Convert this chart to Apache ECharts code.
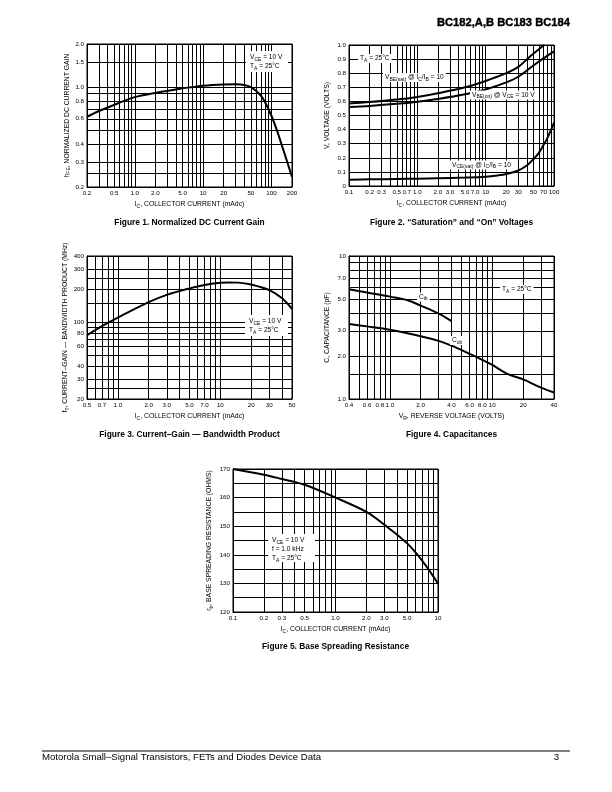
<!DOCTYPE html>
<html><head><meta charset="utf-8">
<script src="https://cdn.jsdelivr.net/npm/echarts@6/dist/echarts.min.js"></script>
<style>html,body{margin:0;padding:0;background:#fff}#c{width:612px;height:792px}</style>
</head><body><div id="c"></div>
<script>
// ---------------- DATA ----------------
// Figure 1: Normalized DC current gain
const fig1Ic  = [0.2,0.3,0.5,0.7,1,2,3,5,7,10,20,30,40,50,60,70,80,100,120,140,170,200];
const fig1Hfe = [0.62,0.68,0.75,0.80,0.85,0.91,0.94,0.98,1.0,1.02,1.04,1.045,1.035,1.0,0.94,0.87,0.79,0.63,0.5,0.4,0.3,0.235];
const fig1XLabels = ['0.2','0.5','1.0','2.0','5.0','10','20','50','100','200'];
const fig1YLabels = ['0.2','0.3','0.4','0.6','0.8','1.0','1.5','2.0'];
const fig1XGrid = [0.2,0.3,0.4,0.5,0.6,0.7,0.8,0.9,1,2,3,4,5,6,7,8,9,10,20,30,40,50,60,70,80,90,100,200];
const fig1YGrid = [0.2,0.25,0.3,0.4,0.5,0.6,0.7,0.8,0.9,1.0,1.5,2.0];

// Figure 2: Saturation and On voltages
const fig2IcSat = [0.1,0.2,0.5,1,2,5,10,20,30,45,60,72];
const fig2VbeSat = [0.585,0.595,0.613,0.632,0.658,0.70,0.745,0.80,0.845,0.92,0.97,1.0];
const fig2IcOn = [0.1,0.2,0.5,1,2,5,10,20,30,50,70,100];
const fig2VbeOn = [0.56,0.568,0.583,0.598,0.617,0.65,0.685,0.735,0.775,0.855,0.905,0.955];
const fig2IcCe = [0.1,0.2,0.5,1,2,5,10,15,20,30,40,50,60,70,80,100];
const fig2VceSat = [0.045,0.047,0.05,0.052,0.055,0.06,0.066,0.075,0.085,0.11,0.145,0.19,0.235,0.29,0.34,0.45];
const fig2XLabels = ['0.1','0.2','0.3','0.5','0.7','1.0','2.0','3.0','5.0','7.0','10','20','30','50','70','100'];
const fig2XGrid = [0.1,0.2,0.3,0.4,0.5,0.6,0.7,0.8,0.9,1,2,3,4,5,6,7,8,9,10,20,30,40,50,60,70,80,90,100];

// Figure 3: Current-gain bandwidth product
const fig3Ic = [0.5,0.7,1,2,3,5,7,10,12,15,20,30,40,50];
const fig3Ft = [76,92,110,152,177,203,218,228,230,229,220,196,165,132];
const fig3XLabels = ['0.5','0.7','1.0','2.0','3.0','5.0','7.0','10','20','30','50'];
const fig3YLabels = ['20','30','40','60','80','100','200','300','400'];
const fig3XGrid = [0.5,0.6,0.7,0.8,0.9,1,2,3,4,5,6,7,8,9,10,20,30,40,50];
const fig3YGrid = [20,25,30,40,50,60,70,80,90,100,150,200,250,300,400];

// Figure 4: Capacitances
const fig4VrIb = [0.4,0.6,1,1.5,2,3,4];
const fig4Cib  = [5.85,5.55,5.2,4.9,4.5,3.95,3.5];
const fig4VrOb = [0.4,0.6,1,2,3,4,6,8,10,14,20,30,40];
const fig4Cob  = [3.35,3.22,3.05,2.75,2.55,2.36,2.07,1.88,1.73,1.5,1.37,1.2,1.11];
const fig4XLabels = ['0.4','0.6','0.8','1.0','2.0','4.0','6.0','8.0','10','20','40'];
const fig4YLabels = ['1.0','2.0','3.0','5.0','7.0','10'];
const fig4XGrid = [0.4,0.5,0.6,0.7,0.8,0.9,1,2,3,4,5,6,7,8,9,10,20,30,40];
const fig4YGrid = [1,1.5,2,3,4,5,6,7,8,9,10];

// Figure 5: Base spreading resistance
const fig5Ic = [0.1,0.2,0.3,0.5,1,2,3,5,7,10];
const fig5Rb = [170,168,166.5,164.5,160,155,150.5,144,138,130];
const fig5XLabels = ['0.1','0.2','0.3','0.5','1.0','2.0','3.0','5.0','10'];
const fig5XGrid = [0.1,0.2,0.3,0.4,0.5,0.6,0.7,0.8,0.9,1,2,3,4,5,6,7,8,9,10];

// ---------------- STYLE / HELPERS ----------------
const FONT = "'Liberation Sans', Arial, Helvetica, sans-serif";
const TICK_FS = 6.2;
const NAME_FS = 6.8;
const rich = {
  n: {fontSize: NAME_FS, fontFamily: FONT, color: '#000', lineHeight: 9},
  s: {fontSize: 5, fontFamily: FONT, color: '#000', lineHeight: 5, verticalAlign: 'bottom'}
};
const annRich = {
  n: {fontSize: 6.6, fontFamily: FONT, fill: '#000', lineHeight: 9},
  s: {fontSize: 5, fontFamily: FONT, fill: '#000', lineHeight: 5, verticalAlign: 'bottom'}
};
function zip(a, b) { return a.map((v, i) => [v, b[i]]); }
function nearestLabel(labels, v) {
  let best = labels[0], bd = Infinity;
  labels.forEach(l => { const d = Math.abs(Math.log(Number(l)) - Math.log(v)); if (d < bd) { bd = d; best = l; } });
  return best;
}
const lineBlack = {color: '#000', width: 1};
function logAxis(gi, min, max, grid, labels, name, gap, isY) {
  const ax = {
    type: 'log', logBase: 10, gridIndex: gi, min: min, max: max,
    axisLine: {show: true, lineStyle: lineBlack},
    axisTick: {show: false, customValues: grid},
    splitLine: {show: true, lineStyle: lineBlack},
    axisLabel: {customValues: labels.map(Number), formatter: v => nearestLabel(labels, v),
      fontSize: TICK_FS, color: '#000', fontFamily: FONT, margin: 3, showMinLabel: true, showMaxLabel: true},
    name: name, nameLocation: 'middle', nameGap: gap,
    nameTextStyle: {rich: rich, fontFamily: FONT, fontSize: NAME_FS, color: '#000'}
  };
  if (isY) ax.nameRotate = 90;
  return ax;
}
function linAxis(gi, min, max, interval, fmt, name, gap) {
  return {
    type: 'value', gridIndex: gi, min: min, max: max, interval: interval,
    axisLine: {show: true, lineStyle: lineBlack},
    axisTick: {show: false},
    splitLine: {show: true, lineStyle: lineBlack},
    axisLabel: {formatter: fmt, fontSize: TICK_FS, color: '#000', fontFamily: FONT, margin: 3, showMinLabel: true, showMaxLabel: true},
    name: name, nameLocation: 'middle', nameGap: gap, nameRotate: 90,
    nameTextStyle: {rich: rich, fontFamily: FONT, fontSize: NAME_FS, color: '#000'}
  };
}
function curve(xi, yi, data) {
  return {type: 'line', xAxisIndex: xi, yAxisIndex: yi, data: data, smooth: 0.35, showSymbol: false,
    symbol: 'none', lineStyle: {color: '#000', width: 2}, clip: true, silent: true, z: 5};
}
const icName = '{n|I}{s|C}{n|, COLLECTOR CURRENT (mAdc)}';

function annBox(x, y, w, h, text) {
  return {type: 'group', z: 50, children: [
    {type: 'rect', shape: {x: x, y: y, width: w, height: h}, style: {fill: '#fff'}, z: 50},
    {type: 'text', x: x + 4, y: y + 2, z: 51, style: {text: text, rich: annRich, textAlign: 'left', textVerticalAlign: 'top', fill: '#000', fontFamily: FONT, fontSize: 6.6}}
  ]};
}
function annText(x, y, text, align) {
  return {type: 'text', x: x, y: y, z: 51, style: {text: text, rich: annRich, textAlign: align || 'left', textVerticalAlign: 'middle',
    fill: '#000', fontFamily: FONT, fontSize: 6.6, backgroundColor: '#fff', padding: [0, 2, 0, 2]}};
}
function caption(x, y, text) {
  return {type: 'text', x: x, y: y, style: {text: text, fontFamily: FONT, fontWeight: 'bold', fontSize: 8.4, fill: '#000', textAlign: 'center', textVerticalAlign: 'middle'}};
}

// ---------------- CHART ----------------
const chart = echarts.init(document.getElementById('c'), null, {renderer: 'canvas', width: 612, height: 792});
const gridStyle = {show: true, borderColor: '#000', borderWidth: 1, backgroundColor: 'transparent'};
const option = {
  backgroundColor: '#fff',
  animation: false,
  grid: [
    Object.assign({left: 87, top: 44, width: 205, height: 143}, gridStyle),
    Object.assign({left: 349, top: 45, width: 205, height: 141}, gridStyle),
    Object.assign({left: 87, top: 256, width: 205, height: 143}, gridStyle),
    Object.assign({left: 349, top: 256, width: 205, height: 143}, gridStyle),
    Object.assign({left: 233, top: 469, width: 205, height: 143}, gridStyle)
  ],
  xAxis: [
    logAxis(0, 0.2, 200, fig1XGrid, fig1XLabels, icName, 13, false),
    logAxis(1, 0.1, 100, fig2XGrid, fig2XLabels, icName, 13, false),
    logAxis(2, 0.5, 50, fig3XGrid, fig3XLabels, icName, 13, false),
    logAxis(3, 0.4, 40, fig4XGrid, fig4XLabels, '{n|V}{s|R}{n|, REVERSE VOLTAGE (VOLTS)}', 13, false),
    logAxis(4, 0.1, 10, fig5XGrid, fig5XLabels, icName, 13, false)
  ],
  yAxis: [
    logAxis(0, 0.2, 2.0, fig1YGrid, fig1YLabels, '{n|h}{s|FE}{n|, NORMALIZED DC CURRENT GAIN}', 15, true),
    linAxis(1, 0, 1.0, 0.1, v => (v === 0 ? '0' : v.toFixed(1)), '{n|V, VOLTAGE (VOLTS)}', 17),
    logAxis(2, 20, 400, fig3YGrid, fig3YLabels, '{n|f}{s|T}{n|, CURRENT\u2013GAIN \u2014 BANDWIDTH PRODUCT (MHz)}', 17, true),
    logAxis(3, 1, 10, fig4YGrid, fig4YLabels, '{n|C, CAPACITANCE (pF)}', 17, true),
    linAxis(4, 120, 170, 5, v => (v % 10 === 0 ? String(v) : ''), '{n|r}{s|b}{n|, BASE SPREADING RESISTANCE (OHMS)}', 19)
  ],
  series: [
    curve(0, 0, zip(fig1Ic, fig1Hfe)),
    curve(1, 1, zip(fig2IcSat, fig2VbeSat)),
    curve(1, 1, zip(fig2IcOn, fig2VbeOn)),
    curve(1, 1, zip(fig2IcCe, fig2VceSat)),
    curve(2, 2, zip(fig3Ic, fig3Ft)),
    curve(3, 3, zip(fig4VrIb, fig4Cib)),
    curve(3, 3, zip(fig4VrOb, fig4Cob)),
    curve(4, 4, zip(fig5Ic, fig5Rb))
  ],
  graphic: [
    {type: 'text', x: 570, y: 23, style: {text: 'BC182,A,B BC183 BC184', fontFamily: FONT, fontWeight: 'bold', fontSize: 11.2, fill: '#000', textAlign: 'right', textVerticalAlign: 'middle', stroke: '#000', lineWidth: 0.4}},
    caption(189.5, 223, 'Figure 1. Normalized DC Current Gain'),
    caption(451.5, 223, 'Figure 2. \u201cSaturation\u201d and \u201cOn\u201d Voltages'),
    caption(189.5, 435, 'Figure 3. Current\u2013Gain \u2014 Bandwidth Product'),
    caption(451.5, 435, 'Figure 4. Capacitances'),
    caption(335.5, 647, 'Figure 5. Base Spreading Resistance'),
    annBox(246, 51, 42, 21, '{n|V}{s|CE}{n| = 10 V}\n{n|T}{s|A}{n| = 25°C}'),
    annBox(245, 315, 43, 21, '{n|V}{s|CE}{n| = 10 V}\n{n|T}{s|A}{n| = 25°C}'),
    annBox(268, 534, 47, 28, '{n|V}{s|CE}{n| = 10 V}\n{n|f = 1.0 kHz}\n{n|T}{s|A}{n| = 25°C}'),
    annText(358, 58.5, '{n|T}{s|A}{n| = 25°C}'),
    annText(383, 77.5, '{n|V}{s|BE(sat)}{n| @ I}{s|C}{n|/I}{s|B}{n| = 10}'),
    annText(470, 95, '{n|V}{s|BE(on)}{n| @ V}{s|CE}{n| = 10 V}'),
    annText(450, 165, '{n|V}{s|CE(sat)}{n| @ I}{s|C}{n|/I}{s|B}{n| = 10}'),
    annText(500, 289.5, '{n|T}{s|A}{n| = 25°C}'),
    annText(417, 297, '{n|C}{s|ib}'),
    annText(450, 340.5, '{n|C}{s|ob}'),
    {type: 'line', shape: {x1: 42, y1: 751, x2: 570, y2: 751}, style: {stroke: '#000', lineWidth: 1}},
    {type: 'text', x: 42, y: 757, style: {text: 'Motorola Small\u2013Signal Transistors, FETs and Diodes Device Data', fontFamily: FONT, fontSize: 9.6, fill: '#000', textAlign: 'left', textVerticalAlign: 'middle'}},
    {type: 'text', x: 559, y: 757, style: {text: '3', fontFamily: FONT, fontSize: 9.6, fill: '#000', textAlign: 'right', textVerticalAlign: 'middle'}}
  ]
};
chart.setOption(option);
</script>
</body></html>
